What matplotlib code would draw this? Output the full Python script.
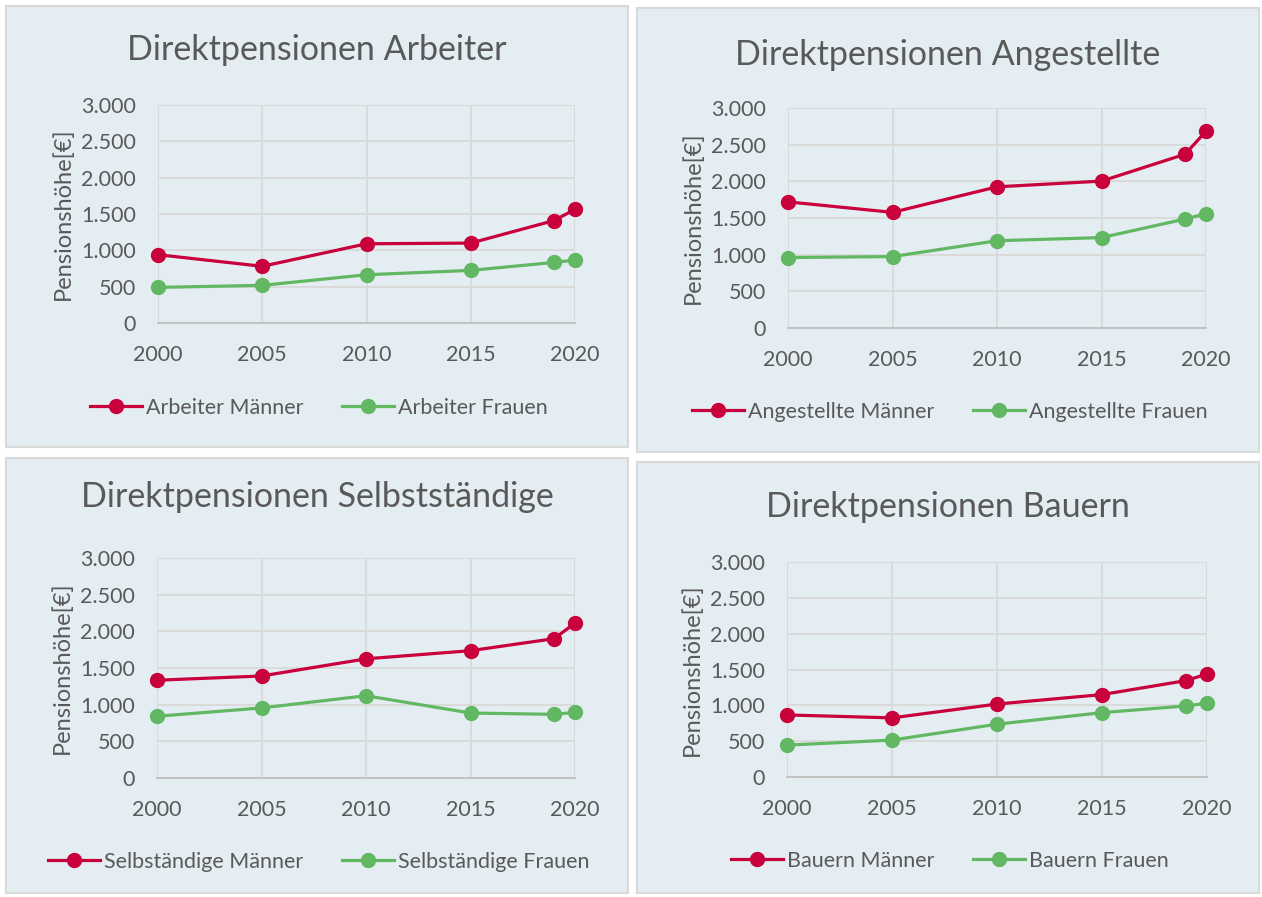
import matplotlib
matplotlib.use('Agg')
import matplotlib.pyplot as plt
from matplotlib.patches import Rectangle
from matplotlib.ticker import FuncFormatter

plt.rcParams['font.family'] = ['Lato', 'DejaVu Sans']

W, H = 1262, 897

years = [2000, 2005, 2010, 2015, 2019, 2020]

arbeiter_m = [940, 780, 1090, 1100, 1410, 1565]
arbeiter_f = [490, 518, 664, 724, 834, 865]
angestellte_m = [1720, 1577, 1925, 2003, 2370, 2683]
angestellte_f = [961, 974, 1190, 1233, 1486, 1559]
selbst_m = [1333, 1391, 1625, 1736, 1900, 2112]
selbst_f = [842, 955, 1122, 886, 868, 895]
bauern_m = [866, 825, 1018, 1150, 1345, 1437]
bauern_f = [445, 515, 737, 898, 992, 1030]

titles = ['Direktpensionen Arbeiter', 'Direktpensionen Angestellte',
          'Direktpensionen Selbstständige', 'Direktpensionen Bauern']
names = ['Arbeiter', 'Angestellte', 'Selbständige', 'Bauern']
men = [arbeiter_m, angestellte_m, selbst_m, bauern_m]
women = [arbeiter_f, angestellte_f, selbst_f, bauern_f]

RED = '#C8003C'
GREEN = '#62B862'
TXT = '#595959'
BG = '#E4EDF2'

# pixel layout: panel box, plot box (x0, y0, x1, y1 from top-left), title y, legend y
layout = [
    ((6, 6, 628, 447), (158, 105, 575, 323), 50, 408),
    ((637, 8, 1259, 452), (788, 108, 1206, 328), 55, 412),
    ((6, 458, 628, 893), (157, 558, 575, 778), 497, 862),
    ((637, 462, 1259, 893), (787, 562, 1207, 777), 507, 861),
]

fig = plt.figure(figsize=(W / 100, H / 100), dpi=100)
fig.patch.set_facecolor('white')


def fx(x):
    return x / W


def fy(y):
    return 1 - y / H


thousands = FuncFormatter(lambda v, p: f'{int(v):,}'.replace(',', '.'))

for i in range(4):
    box, pb, ty, ly = layout[i]
    fig.patches.append(Rectangle((fx(box[0]), fy(box[3])), fx(box[2] - box[0]), (box[3] - box[1]) / H,
                                 transform=fig.transFigure, facecolor=BG, edgecolor='#D9D9D9',
                                 linewidth=1.5, zorder=-5))
    ax = fig.add_axes([fx(pb[0]), fy(pb[3]), fx(pb[2] - pb[0]), (pb[3] - pb[1]) / H])
    ax.set_facecolor('none')
    ax.plot(years, men[i], color=RED, linewidth=2.3, marker='o', markersize=10,
            label=f'{names[i]} Männer', clip_on=False, zorder=4)
    ax.plot(years, women[i], color=GREEN, linewidth=2.3, marker='o', markersize=10,
            label=f'{names[i]} Frauen', clip_on=False, zorder=3)
    ax.set_xlim(2000, 2020)
    ax.set_ylim(0, 3000)
    ax.set_xticks(range(2000, 2021, 5))
    ax.set_yticks(range(0, 3001, 500))
    ax.yaxis.set_major_formatter(thousands)
    ax.grid(True, color='#D9D9D9', linewidth=1.3)
    ax.set_axisbelow(True)
    for s in ['top', 'right', 'left']:
        ax.spines[s].set_visible(False)
    ax.spines['bottom'].set_color('#BFBFBF')
    ax.spines['bottom'].set_linewidth(1.3)
    ax.tick_params(length=0, labelsize=15.5, labelcolor=TXT, pad=16)
    ax.tick_params(axis='x', pad=16)
    ax.set_ylabel('Pensionshöhe[€]', fontsize=17, color=TXT, labelpad=5)
    cx = (box[0] + box[2]) / 2
    fig.text(fx(cx), fy(ty), titles[i], ha='center', va='center', fontsize=24.5, color=TXT)
    ax.legend(loc='center', bbox_to_anchor=(fx(cx + 2), fy(ly)),
              bbox_transform=fig.transFigure, ncol=2, frameon=False, fontsize=15.5,
              labelcolor=TXT, handlelength=2.4, handletextpad=0.2, columnspacing=1.8)

fig.savefig('out.png', dpi=100)
